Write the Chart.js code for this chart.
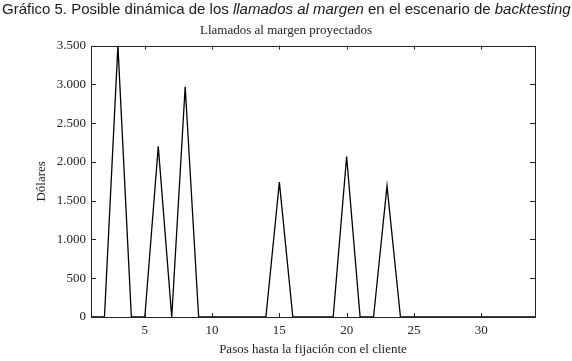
<!DOCTYPE html>
<html>
<head>
<meta charset="utf-8">
<script src="https://cdn.jsdelivr.net/npm/chart.js@4/dist/chart.umd.min.js"></script>
<style>
  html, body { margin: 0; padding: 0; background: #fff; }
  #wrap { position: relative; width: 572px; height: 361px; }
  #cap { position: absolute; left: 2px; top: 0px; font-family: "Liberation Sans", Arial, sans-serif; font-size: 15px; color: #1a1a1a; white-space: nowrap; z-index: 2; }
  canvas { position: absolute; left: 0; top: 0; }
</style>
</head>
<body>
<div id="wrap">
  <div id="cap">Gráfico 5. Posible dinámica de los <i>llamados al margen</i> en el escenario de <i>backtesting</i></div>
  <canvas id="c" width="572" height="361"></canvas>
</div>
<script>
// Data
const steps  = [1, 2, 3, 4, 5, 6, 7, 8, 9, 10, 11, 12, 13, 14, 15, 16, 17, 18, 19, 20, 21, 22, 23, 24, 25, 26, 27, 28, 29, 30, 31, 32, 33, 34];
const margin = [0, 0, 3500, 0, 0, 2200, 0, 2970, 0, 0, 0, 0, 0, 0, 1740, 0, 0, 0, 0, 2070, 0, 0, 1690, 0, 0, 0, 0, 0, 0, 0, 0, 0, 0, 0];
const xTicks = [5, 10, 15, 20, 25, 30];
const yTicks = [0, 500, 1000, 1500, 2000, 2500, 3000, 3500];

const serif = '"Liberation Serif", "Times New Roman", serif';
const fmt = v => String(v).replace(/\B(?=(\d{3})+(?!\d))/g, '.');

const frameTicks = {
  id: 'frameTicks',
  afterDraw(chart) {
    const {ctx, chartArea: a, scales} = chart;
    ctx.save();
    ctx.strokeStyle = '#222';
    ctx.lineWidth = 1;
    ctx.strokeRect(Math.round(a.left) + 0.5, Math.round(a.top) + 0.5, Math.round(a.right - a.left), Math.round(a.bottom - a.top));
    ctx.beginPath();
    scales.x.ticks.forEach(t => {
      const px = Math.round(scales.x.getPixelForValue(t.value)) + 0.5;
      ctx.moveTo(px, a.bottom); ctx.lineTo(px, a.bottom - 4);
      ctx.moveTo(px, a.top); ctx.lineTo(px, a.top + 4);
    });
    scales.y.ticks.forEach(t => {
      const py = Math.round(scales.y.getPixelForValue(t.value)) + 0.5;
      ctx.moveTo(a.left, py); ctx.lineTo(a.left + 5, py);
      ctx.moveTo(a.right, py); ctx.lineTo(a.right - 5, py);
    });
    ctx.stroke();
    ctx.restore();
  }
};

new Chart(document.getElementById('c'), {
  type: 'line',
  data: {
    datasets: [{
      data: steps.map((s, i) => ({x: s, y: margin[i]})),
      borderColor: '#000',
      borderWidth: 1.3,
      pointRadius: 0,
      tension: 0,
      fill: false
    }]
  },
  options: {
    responsive: false,
    animation: false,
    layout: { padding: { left: 0, right: 0, top: 0, bottom: 0 } },
    plugins: {
      legend: { display: false },
      tooltip: { enabled: false },
      title: {
        display: true,
        text: 'Llamados al margen proyectados',
        color: '#222',
        font: { family: serif, size: 13, weight: 'normal' },
        padding: { top: 23, bottom: 7 }
      }
    },
    scales: {
      x: {
        type: 'linear',
        min: 1, max: 34,
        afterBuildTicks: s => { s.ticks = xTicks.map(v => ({value: v})); },
        afterFit: s => { s.height = 44; },
        grid: { display: false, drawTicks: false },
        border: { display: false },
        ticks: { color: '#222', font: { family: serif, size: 13 }, padding: 6, maxRotation: 0 },
        title: { display: true, text: 'Pasos hasta la fijación con el cliente', color: '#222', font: { family: serif, size: 13 }, padding: { top: 0, bottom: 4 } }
      },
      y: {
        type: 'linear',
        min: 0, max: 3500,
        afterBuildTicks: s => { s.ticks = yTicks.map(v => ({value: v})); },
        afterFit: s => { s.width = 91; },
        grid: { display: false, drawTicks: false },
        border: { display: false },
        ticks: { color: '#222', font: { family: serif, size: 13 }, padding: 5, callback: v => fmt(v) },
        title: { display: true, text: 'Dólares', color: '#222', font: { family: serif, size: 13 }, padding: { top: 34, bottom: 0 } }
      },
      y2: {
        type: 'linear',
        position: 'right',
        min: 0, max: 3500,
        afterFit: s => { s.width = 37; },
        grid: { display: false, drawTicks: false },
        border: { display: false },
        ticks: { display: false }
      }
    }
  },
  plugins: [frameTicks]
});
</script>
</body>
</html>
